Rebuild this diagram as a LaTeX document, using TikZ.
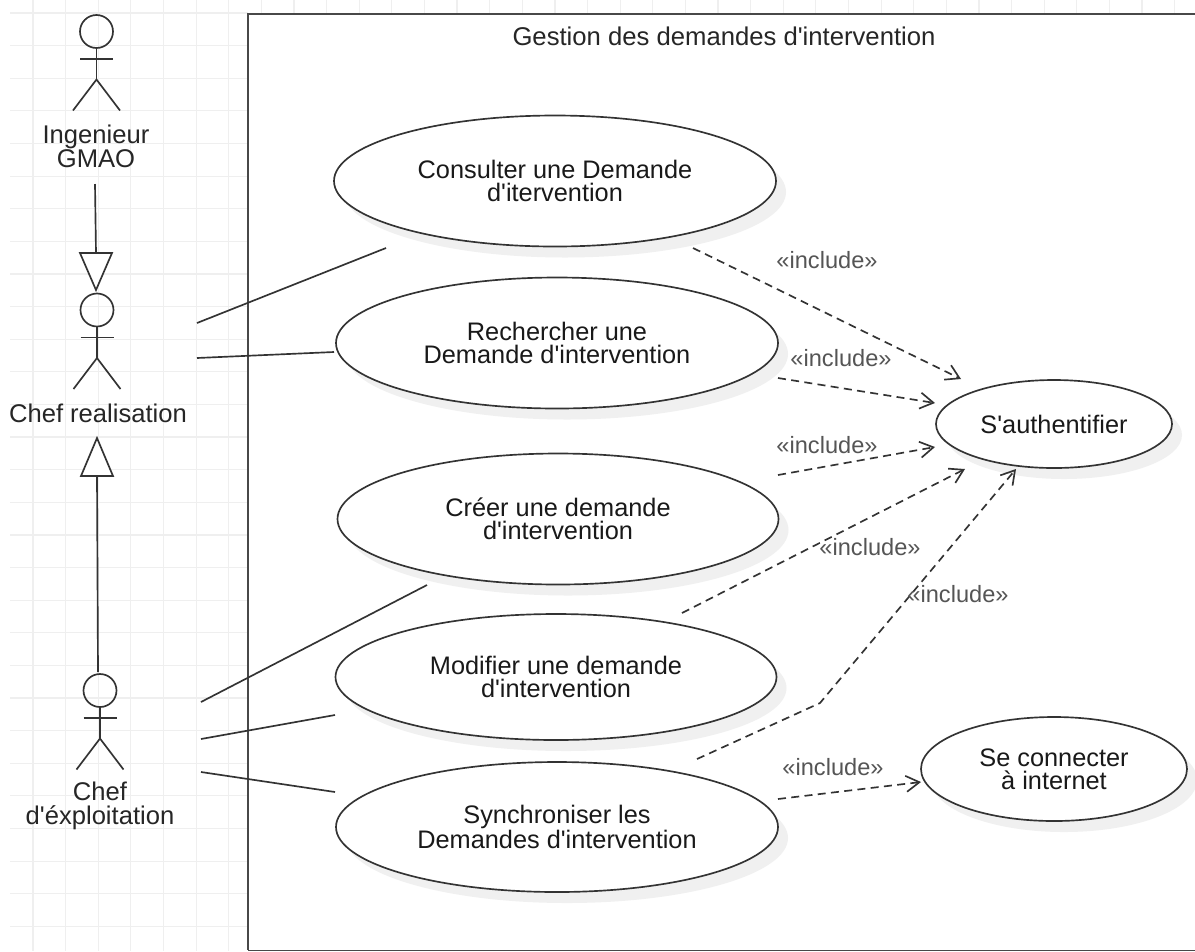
\documentclass[tikz,border=0pt]{standalone}
\usepackage{fontspec}
\setmainfont{Liberation Sans}[Ligatures=TeXOff]
\usetikzlibrary{arrows.meta,shapes.geometric}
\definecolor{gridc}{HTML}{EFEFEF}
\definecolor{shadc}{HTML}{F0F0F0}
\definecolor{inkc}{HTML}{333333}
\definecolor{framec}{HTML}{484848}
\definecolor{labc}{HTML}{555555}
\tikzset{
  gridline/.style={draw=gridc,line width=0.9pt},
  frameline/.style={draw=framec,line width=1.7pt},
  inkline/.style={draw=inkc,line width=1.25pt},
  usecase/.style={ellipse,draw=inkc,line width=1.25pt,fill=white,inner sep=0pt,align=center,font=\fontsize{19}{17.4}\selectfont,text=black!90},
  actorlabel/.style={inner sep=0pt,align=center,font=\fontsize{19.2}{18}\selectfont,text=black!85},
  incl/.style={inner sep=0pt,font=\fontsize{17.7}{17.25}\selectfont,text=labc},
  assoc/.style={inkline},
  gener/.style={inkline},
  hollow/.style={inkline,fill=white,line join=miter},
  dep/.style={draw=inkc,line width=1.25pt,dash pattern=on 6pt off 4pt,-{Straight Barb[length=10pt,width=12pt,line width=1.25pt]}},
}
\newcommand{\usecasenode}[6]{%
  \fill[shadc] (#2+10,#3+11) ellipse [x radius=#4,y radius=#5];
  \node[usecase,minimum width=#4*1.5pt,minimum height=#5*1.5pt] (#1) at (#2,#3) {#6};
}
\newcommand{\actorfig}[3]{% name, x, head centre y
  \coordinate (#1) at (#2,#3);
  \draw[inkline] (#2,#3) circle [radius=16.5];
  \draw[inkline] (#2,#3+16.5) -- (#2,#3+48);
  \draw[inkline] (#2-16.5,#3+27.5) -- (#2+16.5,#3+27.5);
  \draw[inkline] (#2-23.5,#3+79) -- (#2,#3+48) -- (#2+23.5,#3+79);
}
\begin{document}
\begin{tikzpicture}[x=0.75pt,y=-0.75pt]
\useasboundingbox (0,0) rectangle (1195,951);
\fill[white] (0,0) rectangle (1195,951);
% grid
\foreach \k in {0,...,28}{\draw[gridline] (10,13+\k*32.62) -- (248,13+\k*32.62);}
\foreach \k in {0,...,6}{\draw[gridline] (33+\k*32.62,0) -- (33+\k*32.62,951);}
\foreach \k in {7,...,35}{\draw[gridline] (33+\k*32.62,0) -- (33+\k*32.62,14);}
% frame
\path[fill=white] (248,14) rectangle (1200,950);
\draw[frameline] (1200,14) -- (248,14) -- (248,950);
\draw[draw=framec,line width=0.7pt] (248,950) -- (1200,950);
\node[inner sep=0pt,font=\fontsize{19.25}{17.25}\selectfont,text=black!85] (title) at (724,36) {Gestion des demandes d'intervention};
% actors
\actorfig{a1}{96.5}{31.5}
\actorfig{a2}{97}{310}
\actorfig{a3}{100}{690.5}
\node[actorlabel] (l1) at (96,146) {Ingenieur\\GMAO};
\node[actorlabel] (l2) at (98,413) {Chef realisation};
\node[actorlabel] (l3) at (100,806) {Chef\\d'éxploitation};
% use cases
\usecasenode{uc1}{555}{181}{221}{65.5}{Consulter une Demande\\d'itervention}
\usecasenode{uc2}{557}{343}{221}{65.5}{Rechercher une\\Demande d'intervention}
\usecasenode{uc3}{558}{519}{220.5}{65.5}{Créer une demande\\d'intervention}
\usecasenode{uc4}{556}{677}{220.5}{63}{Modifier une demande\\d'intervention}
\usecasenode{uc5}{557}{827}{221}{65}{Synchroniser les\\Demandes d'intervention}
\usecasenode{uc6}{1054}{424}{118}{44}{S'authentifier}
\usecasenode{uc7}{1054}{769}{133}{52}{Se connecter\\à internet}
% free ends
\coordinate (g1s) at (95,184);
\coordinate (g1b) at (96,253);
\coordinate (g1t) at (96,290);
\coordinate (g2s) at (98,672);
\coordinate (g2b) at (97,476);
\coordinate (g2t) at (97,438);
\coordinate (c1) at (197,323); \coordinate (c1e) at (386,248);
\coordinate (c2) at (197,358); \coordinate (c2e) at (334,352);
\coordinate (c3) at (201,702); \coordinate (c3e) at (427,585);
\coordinate (c4) at (201,739); \coordinate (c4e) at (335,715);
\coordinate (c5) at (201,772); \coordinate (c5e) at (335,792);
% generalisations
\draw[gener] (g1s) -- (g1b);
\draw[hollow] (80,253) -- (112,253) -- (g1t) -- cycle;
\draw[gener] (g2s) -- (g2b);
\draw[hollow] (81,476) -- (113,476) -- (g2t) -- cycle;
% associations
\draw[assoc] (c1) -- (c1e);
\draw[assoc] (c2) -- (c2e);
\draw[assoc] (c3) -- (c3e);
\draw[assoc] (c4) -- (c4e);
\draw[assoc] (c5) -- (c5e);
% includes
\coordinate (d1) at (693,248); \coordinate (d1e) at (961,379);
\coordinate (d2) at (778,378); \coordinate (d2e) at (935,403);
\coordinate (d3) at (778,475); \coordinate (d3e) at (935,447);
\coordinate (d4) at (682,613); \coordinate (d4e) at (965,469);
\coordinate (d5) at (697,759); \coordinate (d5m) at (820,703); \coordinate (d5e) at (1016,469);
\coordinate (d6) at (778,799); \coordinate (d6e) at (921,782);
\draw[dep] (d1) -- (d1e);
\draw[dep] (d2) -- (d2e);
\draw[dep] (d3) -- (d3e);
\draw[dep] (d4) -- (d4e);
\draw[dep] (d5) -- (d5m) -- (d5e);
\draw[dep] (d6) -- (d6e);
\node[incl] (i1) at (827,260) {«include»};
\node[incl] (i2) at (841,358) {«include»};
\node[incl] (i3) at (827,445) {«include»};
\node[incl] (i4) at (870,547) {«include»};
\node[incl] (i5) at (958,594) {«include»};
\node[incl] (i6) at (833,767) {«include»};
\end{tikzpicture}
\end{document}
